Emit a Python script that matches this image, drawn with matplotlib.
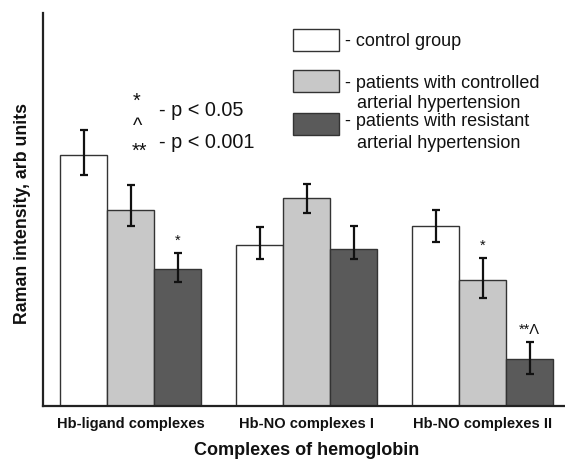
import matplotlib
matplotlib.use("Agg")
import matplotlib.pyplot as plt
from matplotlib.patches import Rectangle
import numpy as np

plt.rcParams['font.family'] = ['Liberation Sans', 'DejaVu Sans']
plt.rcParams['text.color'] = '#111111'
plt.rcParams['xtick.color'] = '#111111'
plt.rcParams['axes.labelcolor'] = '#111111'

categories = ["Hb-ligand complexes", "Hb-NO complexes I", "Hb-NO complexes II"]
series_names = [["- control group"],
                ["- patients with controlled", "arterial hypertension"],
                ["- patients with resistant", "arterial hypertension"]]
# bar heights (arb units)
control = [251, 161, 180]
controlled = [196, 208, 126]
resistant = [137, 157, 47]
# error bars: lower / upper
control_err_lo = [20, 14, 16]
control_err_hi = [25, 18, 16]
controlled_err_lo = [16, 15, 18]
controlled_err_hi = [25, 14, 22]
resistant_err_lo = [13, 10, 15]
resistant_err_hi = [16, 23, 17]
# significance marks: (group index, series index, label)
marks = [(0, 2, "*"), (2, 1, "*"), (2, 2, "**Λ")]
pnotes = [("*", "- p < 0.05"), ("^", None), ("**", "- p < 0.001")]

colors = ["#ffffff", "#c8c8c8", "#5a5a5a"]
edge = "#333333"

W, H = 565, 459
fig = plt.figure(figsize=(W / 100, H / 100), dpi=100)
ax = fig.add_axes([42.7 / W, 1 - 405.7 / H, 1 - 42.7 / W, (405.7 - 12.7) / H])

x = np.arange(len(categories))
w = 0.267
vals = [control, controlled, resistant]
errs = [(control_err_lo, control_err_hi),
        (controlled_err_lo, controlled_err_hi),
        (resistant_err_lo, resistant_err_hi)]
for i, (v, e, c) in enumerate(zip(vals, errs, colors)):
    xi = x + (i - 1) * w
    ax.bar(xi, v, width=w, color=c, edgecolor=edge, linewidth=1.0, zorder=2)
    ax.errorbar(xi, v, yerr=[e[0], e[1]], fmt='none', ecolor='#111111',
                elinewidth=1.6, capsize=2.8, capthick=1.6, zorder=3)

for g, s, lab in marks:
    xi = x[g] + (s - 1) * w
    top = vals[s][g] + errs[s][1][g]
    ax.text(xi, top + 5, lab, ha='center', va='bottom', fontsize=10.5)

ax.set_xlim(-0.5006, 2.467)
ax.set_ylim(0, 393)
ax.set_yticks([])
ax.set_xticks(x)
ax.set_xticklabels(categories, fontsize=10.5, fontweight='bold')
ax.tick_params(axis='x', length=0, pad=8)
ax.spines['top'].set_visible(False)
ax.spines['right'].set_visible(False)
ax.spines['left'].set_linewidth(1.6)
ax.spines['bottom'].set_linewidth(1.6)
ax.spines['left'].set_color('#222222')
ax.spines['bottom'].set_color('#222222')

ax.set_xlabel("Complexes of hemoglobin", fontsize=13, fontweight='bold')
ax.xaxis.set_label_coords((307 - 42.7) / (W - 42.7), -(450.5 - 405.7) / 393)
ax.xaxis.label.set_verticalalignment('center')
ax.set_ylabel("Raman intensity, arb units", fontsize=12.8, fontweight='bold')
ax.yaxis.set_label_coords((22.5 - 42.7) / (W - 42.7), (405.7 - 213) / 393)
ax.yaxis.label.set_verticalalignment('center')


def px(xp, yp):
    return xp / W, 1 - yp / H


# custom legend in figure pixel coordinates
patch_tops = [29.3, 70, 113.3]
line_baselines = [[45.5], [88, 108], [126.4, 148]]
for ytop, c, names, bases in zip(patch_tops, colors, series_names, line_baselines):
    x0, y0 = px(292.7, ytop + 21.7)
    fig.patches.append(Rectangle((x0, y0), 46 / W, 21.7 / H, transform=fig.transFigure,
                                 facecolor=c, edgecolor=edge, linewidth=1.0))
    for k, (name, b) in enumerate(zip(names, bases)):
        fx = 345 if k == 0 else 356.7
        fig.text(*px(fx, b), name, ha='left', va='baseline', fontsize=13)

# p-value notes
fig.text(*px(132.5, 107), pnotes[0][0], ha='left', va='baseline', fontsize=14.3)
fig.text(*px(159, 116), pnotes[0][1], ha='left', va='baseline', fontsize=14.3)
fig.text(*px(132.5, 132), pnotes[1][0], ha='left', va='baseline', fontsize=14.3)
fig.text(*px(132, 157), pnotes[2][0], ha='left', va='baseline', fontsize=14.3)
fig.text(*px(159, 148.3), pnotes[2][1], ha='left', va='baseline', fontsize=14.3)

fig.savefig("out.png", dpi=100)
